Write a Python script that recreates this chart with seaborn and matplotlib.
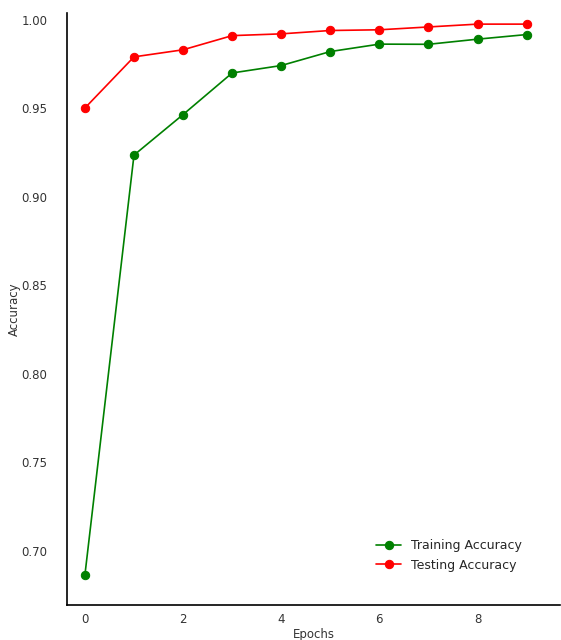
import matplotlib
matplotlib.use('Agg')
import matplotlib.pyplot as plt
import seaborn as sns

epochs = [0, 1, 2, 3, 4, 5, 6, 7, 8, 9]
train_acc = [0.6864, 0.9236, 0.9465, 0.9700, 0.9742, 0.9821, 0.9863, 0.9862, 0.9891, 0.9917]
test_acc = [0.9502, 0.9791, 0.9831, 0.9911, 0.9921, 0.9940, 0.9944, 0.9960, 0.9976, 0.9976]

sns.set_style('white')
plt.rcParams['font.family'] = ['DejaVu Sans']

fig = plt.figure(figsize=(5.61, 6.4), dpi=100)
ax = fig.add_axes([0.119, 0.055, 0.88, 0.925])

sns.lineplot(x=epochs, y=train_acc, color='green', marker='o', markersize=6,
             markeredgecolor='green', linewidth=1.2, label='Training Accuracy', ax=ax)
sns.lineplot(x=epochs, y=test_acc, color='red', marker='o', markersize=6,
             markeredgecolor='red', linewidth=1.2, label='Testing Accuracy', ax=ax)

ax.set_xlim(-0.37, 9.69)
ax.set_ylim(0.6695, 1.004)
ax.set_xticks([0, 2, 4, 6, 8])
ax.set_yticks([0.70, 0.75, 0.80, 0.85, 0.90, 0.95, 1.00])
ax.tick_params(labelsize=8.5, colors='#333333', length=0)
ax.tick_params(axis='y', pad=14)
ax.tick_params(axis='x', pad=6)
ax.set_xlabel('Epochs', fontsize=8.5, color='#333333', labelpad=1)
ax.set_ylabel('Accuracy', fontsize=8.5, color='#333333', labelpad=0)
sns.despine(ax=ax)
for s in ['left', 'bottom']:
    ax.spines[s].set_color('black')
    ax.spines[s].set_linewidth(1.2)

ax.legend(loc='lower right', bbox_to_anchor=(0.945, 0.037), frameon=False,
          fontsize=9, labelspacing=0.5)

fig.savefig('out.png', dpi=100)
